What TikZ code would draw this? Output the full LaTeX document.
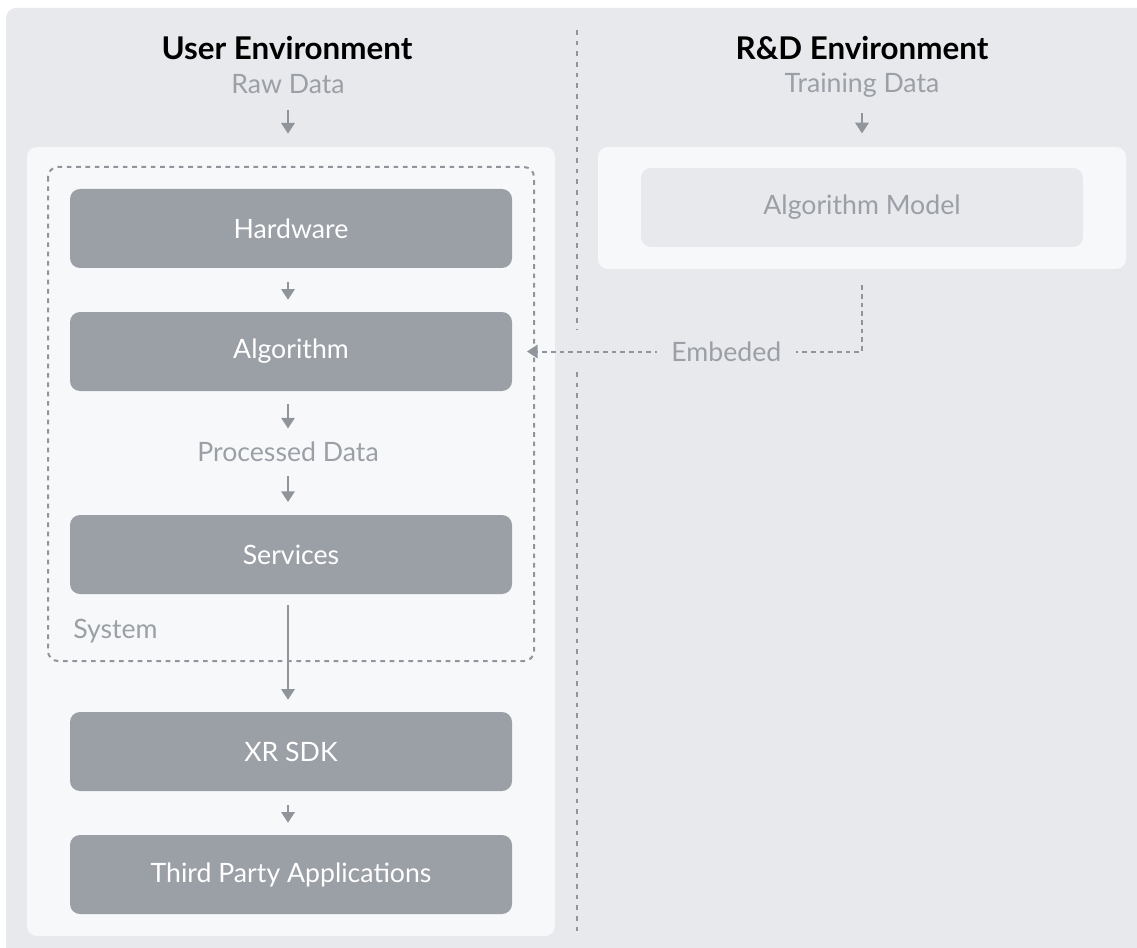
\documentclass[tikz,border=0pt]{standalone}
\usepackage{fontspec}
\setmainfont{Lato}
\usetikzlibrary{arrows.meta}
\definecolor{bgcol}{HTML}{E8E9ED}
\definecolor{panelcol}{HTML}{F7F8FA}
\definecolor{boxcol}{HTML}{9B9FA6}
\definecolor{txtgray}{HTML}{9B9FA6}
\definecolor{arrcol}{HTML}{90949B}
\tikzset{
  px/.style={x=0.75pt,y=-0.75pt},
  title/.style={font=\bfseries\fontsize{23.5}{26}\selectfont, text=black, inner sep=0pt},
  datalabel/.style={font=\fontsize{20}{24}\selectfont, text=txtgray, inner sep=0pt},
  stage/.style={rectangle, rounded corners=7.5pt, fill=boxcol, text=white,
    minimum width=331.5pt, minimum height=59.25pt, inner sep=0pt,
    font=\fontsize{20}{24}\selectfont},
  modelbox/.style={stage, fill=bgcol, text=txtgray},
  panel/.style={rectangle, rounded corners=7.5pt, fill=panelcol, inner sep=0pt},
  flow/.style={draw=arrcol, line width=1.5pt, -{Triangle[length=8pt,width=10pt]}},
  embedline/.style={draw=arrcol, line width=1.5pt, dash pattern=on 3.5pt off 3pt,
    -{Triangle[length=8pt,width=10pt]}},
  sysframe/.style={draw=arrcol, line width=1.5pt, dash pattern=on 3.5pt off 3.5pt,
    rounded corners=7.5pt},
  divider/.style={draw=arrcol, line width=1.5pt, dash pattern=on 3.5pt off 4.5pt},
}
\begin{document}
\begin{tikzpicture}[px]
\useasboundingbox (0,0) rectangle (1137,948);
% background
\fill[bgcol, rounded corners=7.5pt] (6,8) rectangle (1160,970);

% panels
\node[panel, minimum width=396pt, minimum height=591.75pt] (lpanel) at (291,541.5) {};
\node[panel, minimum width=396pt, minimum height=91.5pt] (rpanel) at (862,208) {};

% system frame
\draw[sysframe] (48,167) rectangle (534,661);
\node[datalabel, anchor=west] (sys) at (73,631) {System};

% headings
\node[title] (ue) at (287,48) {User Environment};
\node[title] (rd) at (862,48) {R\&D Environment};
\node[datalabel] (raw) at (288,84) {Raw Data};
\node[datalabel] (train) at (862,85) {Training Data};

% stages
\node[stage] (hw) at (291,228.5) {Hardware};
\node[stage] (alg) at (291,351.5) {Algorithm};
\node[datalabel] (proc) at (288,452) {Processed Data};
\node[stage] (srv) at (291,554.5) {Services};
\node[stage] (xr) at (291,751.5) {XR SDK};
\node[stage] (tpa) at (291,874.5) {Third Party Applications};
\node[modelbox] (model) at (862,207.5) {Algorithm Model};

% divider
\coordinate (d1) at (577,30);
\coordinate (d2) at (577,330);
\coordinate (d3) at (577,372);
\coordinate (d4) at (577,936);
\draw[divider] (d1) -- (d2);
\draw[divider] (d3) -- (d4);

% flow arrows
\draw[flow, shorten <=12pt, shorten >=10pt] (raw.south -| 288,0) -- (288,147);
\draw[flow, shorten <=12pt, shorten >=10pt] (train.south -| 862,0) -- (rpanel.north);
\draw[flow, shorten <=10.5pt, shorten >=9pt] (hw.south -| 288,0) -- (alg.north -| 288,0);
\draw[flow, shorten <=9.5pt, shorten >=10pt] (alg.south -| 288,0) -- (proc.north);
\draw[flow, shorten <=10pt, shorten >=9.5pt] (proc.south) -- (srv.north -| 288,0);
\draw[flow, shorten <=8pt, shorten >=9pt] (srv.south -| 288,0) -- (xr.north -| 288,0);
\draw[flow, shorten <=10.5pt, shorten >=9pt] (xr.south -| 288,0) -- (tpa.north -| 288,0);

% embedding connector
\draw[embedline, shorten <=12pt, shorten >=11pt] (rpanel.south) |-
  node[pos=0.694, fill=bgcol, inner xsep=11pt, inner ysep=2pt, font=\fontsize{20}{24}\selectfont, text=txtgray] (emb) {Embeded}
  (alg.east);
\end{tikzpicture}
\end{document}
